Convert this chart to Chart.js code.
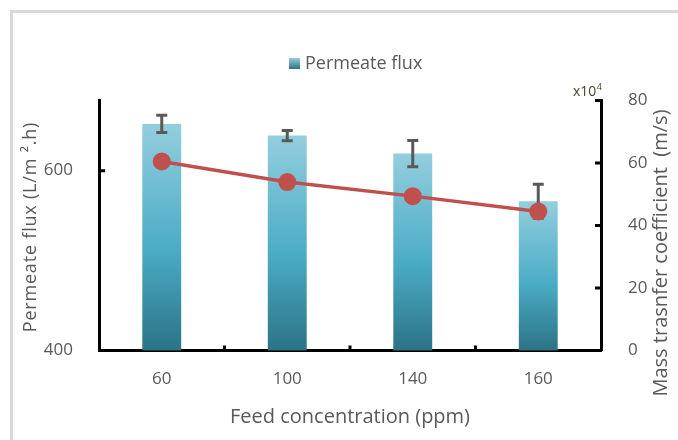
<!DOCTYPE html>
<html>
<head>
<meta charset="utf-8">
<script src="https://cdn.jsdelivr.net/npm/chart.js@4.4.1/dist/chart.umd.min.js"></script>
<style>
  html, body { margin: 0; padding: 0; background: #fff; }
  #wrap { width: 678px; height: 440px; }
</style>
</head>
<body>
<div id="wrap"><canvas id="grafico"></canvas></div>
<script>
// ===== Dados =====
const categorias = ["60", "100", "140", "160"];
const fluxo = [652, 639, 619, 566];
const erroFluxo = [9.6, 5.7, 14.6, 19];
const coefMassa = [60.5, 53.9, 49.4, 44.5];
const ticksFluxo = [400, 600];
const ticksCoef = [0, 20, 40, 60, 80];

const FONTE = "'Open Sans'";
const CINZA = "#595959";

// gradiente de cada barra (claro em cima, escuro embaixo)
function gradienteBarra(ctx, topo, base) {
  const g = ctx.createLinearGradient(0, topo, 0, base);
  g.addColorStop(0, "#93cede");
  g.addColorStop(0.55, "#4bacc6");
  g.addColorStop(1, "#2c7385");
  return g;
}

// ===== Plugin: moldura, barras de erro, ticks internos, legenda =====
const extras = {
  id: "extras",
  beforeDraw(chart) {
    const c = chart.ctx;
    c.save();
    c.strokeStyle = "#d9d9d9";
    c.lineWidth = 3;
    c.beginPath();
    c.moveTo(11.5, 460);
    c.lineTo(11.5, 11.5);
    c.lineTo(700, 11.5);
    c.stroke();
    c.restore();
  },
  afterDatasetDraw(chart, args) {
    if (args.index !== 0) return;
    const c = chart.ctx, y = chart.scales.y;
    const meta = chart.getDatasetMeta(0);
    c.save();
    c.strokeStyle = CINZA;
    c.lineWidth = 3;
    meta.data.forEach((barra, i) => {
      const x = barra.x;
      const y1 = y.getPixelForValue(fluxo[i] + erroFluxo[i]);
      const y2 = y.getPixelForValue(fluxo[i] - erroFluxo[i]);
      c.beginPath();
      c.moveTo(x, y1); c.lineTo(x, y2);
      c.moveTo(x - 5.5, y1); c.lineTo(x + 5.5, y1);
      c.moveTo(x - 5.5, y2); c.lineTo(x + 5.5, y2);
      c.stroke();
    });
    c.restore();
  },
  afterDraw(chart) {
    const c = chart.ctx, a = chart.chartArea;
    const sx = chart.scales.x, sy = chart.scales.y, sy1 = chart.scales.y1;
    c.save();
    c.strokeStyle = "#000";
    c.lineWidth = 3;
    c.beginPath();
    ticksFluxo.forEach(v => {
      const p = sy.getPixelForValue(v);
      c.moveTo(a.left, p); c.lineTo(a.left + 6, p);
    });
    ticksCoef.forEach(v => {
      const p = sy1.getPixelForValue(v);
      c.moveTo(a.right, p); c.lineTo(a.right - 6, p);
    });
    for (let i = 0; i < categorias.length - 1; i++) {
      const p = (sx.getPixelForValue(i) + sx.getPixelForValue(i + 1)) / 2;
      c.moveTo(p, a.bottom); c.lineTo(p, a.bottom - 5);
    }
    c.stroke();

    // legenda
    const sw = c.createLinearGradient(0, 58, 0, 69);
    sw.addColorStop(0, "#93cede");
    sw.addColorStop(1, "#2c7385");
    c.fillStyle = sw;
    c.fillRect(289, 58, 11, 11);
    c.fillStyle = CINZA;
    c.font = "18px " + FONTE;
    c.textBaseline = "middle";
    c.textAlign = "left";
    c.fillText("Permeate flux", 305, 63.5);

    // x10^4
    c.fillStyle = "#4d4529";
    c.font = "14px " + FONTE;
    c.textBaseline = "alphabetic";
    c.fillText("x10", 573, 96);
    const w = c.measureText("x10").width;
    c.font = "9px " + FONTE;
    c.fillText("4", 573 + w + 0.5, 90);

    // título do eixo esquerdo (letras espaçadas como no original)
    c.save();
    c.translate(31, 227);
    c.rotate(-Math.PI / 2);
    c.fillStyle = CINZA;
    c.font = "18px " + FONTE;
    c.letterSpacing = "0.8px";
    c.textAlign = "center";
    c.textBaseline = "middle";
    c.fillText("Permeate flux (L/m \u00b2.h)", 0, 0);
    c.restore();

    // título do eixo direito
    c.translate(661, 253);
    c.rotate(-Math.PI / 2);
    c.fillStyle = CINZA;
    c.font = "20px " + FONTE;
    c.textAlign = "center";
    c.textBaseline = "middle";
    c.fillText("Mass trasnfer coefficient  (m/s)", 0, 0);
    c.restore();
  }
};

// ===== Gráfico =====
new Chart(document.getElementById("grafico"), {
  type: "bar",
  data: {
    labels: categorias,
    datasets: [
      {
        label: "Permeate flux",
        data: fluxo,
        yAxisID: "y",
        order: 2,
        backgroundColor: ctx => {
          const ch = ctx.chart;
          if (!ch.chartArea || ctx.parsed == null) return "#4bacc6";
          const topo = ch.scales.y.getPixelForValue(ctx.parsed.y);
          return gradienteBarra(ch.ctx, topo, ch.chartArea.bottom);
        },
        borderWidth: 0,
        categoryPercentage: 1,
        barPercentage: 0.31
      },
      {
        type: "line",
        label: "Mass transfer coefficient",
        data: coefMassa,
        yAxisID: "y1",
        order: 1,
        borderColor: "#c0504d",
        borderWidth: 3.5,
        pointRadius: 9,
        pointHoverRadius: 9,
        pointBackgroundColor: "#c0504d",
        pointBorderWidth: 0,
        tension: 0
      }
    ]
  },
  options: {
    responsive: true,
    maintainAspectRatio: false,
    animation: false,
    layout: { padding: { top: 100.5, left: 0, right: 0, bottom: 0 } },
    plugins: { legend: { display: false }, tooltip: { enabled: false } },
    scales: {
      x: {
        z: 1,
        grid: { display: false },
        border: { color: "#000", width: 3 },
        ticks: { color: CINZA, font: { family: FONTE, size: 17 }, padding: 10 },
        title: {
          display: true, text: "Feed concentration (ppm)", color: CINZA,
          font: { family: FONTE, size: 20 }, padding: { top: 0, bottom: 10.5 }
        },
        afterFit: s => { s.height = 89.5; }
      },
      y: {
        position: "left",
        min: 400, max: 678,
        z: 1,
        grid: { display: false },
        border: { color: "#000", width: 3 },
        afterBuildTicks: s => { s.ticks = ticksFluxo.map(v => ({ value: v })); },
        ticks: { color: CINZA, font: { family: FONTE, size: 17 }, padding: 18 },
        afterFit: s => { s.width = 99; }
      },
      y1: {
        position: "right",
        min: 0, max: 80,
        z: 1,
        grid: { display: false },
        border: { color: "#000", width: 3 },
        afterBuildTicks: s => { s.ticks = ticksCoef.map(v => ({ value: v })); },
        ticks: { color: CINZA, font: { family: FONTE, size: 17 }, padding: 19 },
        afterFit: s => { s.width = 77; }
      }
    }
  },
  plugins: [extras]
});
</script>
</body>
</html>
